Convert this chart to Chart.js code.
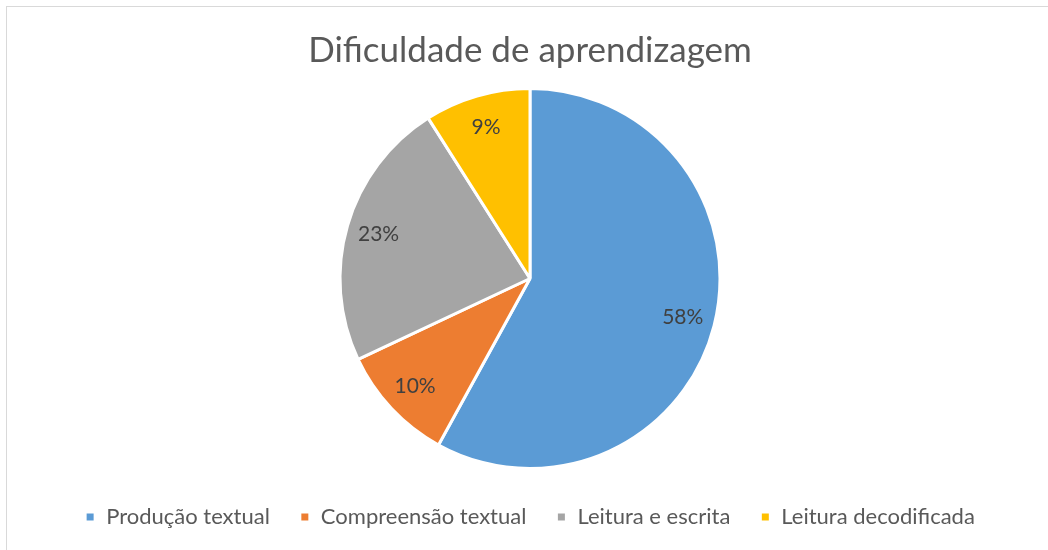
<!DOCTYPE html>
<html>
<head>
<meta charset="utf-8">
<script src="https://cdn.jsdelivr.net/npm/chart.js@4/dist/chart.umd.min.js"></script>
<style>
html,body{margin:0;padding:0;background:#fff;overflow:hidden;}
#frame{position:absolute;left:6px;top:6px;width:1100px;height:600px;border:1.5px solid #d9d9d9;box-sizing:border-box;}
#wrap{position:absolute;left:0;top:0;width:1048px;height:550px;}
</style>
</head>
<body>
<div id="frame"></div>
<div id="wrap"><canvas id="c" width="1048" height="550"></canvas></div>
<script>
const titleText = "Dificuldade de aprendizagem";
const categories = ["Produção textual", "Compreensão textual", "Leitura e escrita", "Leitura decodificada"];
const values = [58, 10, 23, 9];
const colors = ["#5B9BD5", "#ED7D31", "#A5A5A5", "#FFC000"];

const FONT = "Lato, 'Open Sans', sans-serif";

const labelPlugin = {
  id: 'sliceLabels',
  afterDatasetsDraw(chart) {
    const ctx = chart.ctx;
    const meta = chart.getDatasetMeta(0);
    const total = values.reduce((a, b) => a + b, 0);
    ctx.save();
    ctx.font = "21px " + FONT;
    ctx.fillStyle = "#404040";
    ctx.textAlign = "center";
    ctx.textBaseline = "middle";
    meta.data.forEach((arc, i) => {
      const p = arc.getProps(['x','y','startAngle','endAngle','outerRadius'], true);
      const mid = (p.startAngle + p.endAngle) / 2;
      const r = p.outerRadius * 0.83;
      const x = p.x + Math.cos(mid) * r;
      const y = p.y + Math.sin(mid) * r;
      ctx.fillText(Math.round(values[i] / total * 100) + "%", x, y);
    });
    ctx.restore();
  }
};

new Chart(document.getElementById('c'), {
  type: 'pie',
  data: {
    labels: categories,
    datasets: [{
      data: values,
      backgroundColor: colors,
      borderColor: '#ffffff',
      borderWidth: 3
    }]
  },
  options: {
    responsive: false,
    animation: false,
    radius: 190,
    layout: { padding: { left: 12, right: 0, top: 0, bottom: 12 } },
    plugins: {
      title: {
        display: true,
        text: titleText,
        color: '#595959',
        font: { family: FONT, size: 35, weight: 'normal' },
        padding: { top: 30, bottom: 9 }
      },
      legend: {
        position: 'bottom',
        labels: {
          color: '#595959',
          font: { family: FONT, size: 22 },
          boxWidth: 10,
          boxHeight: 10,
          padding: 30
        }
      },
      tooltip: { enabled: false }
    }
  },
  plugins: [labelPlugin]
});
</script>
</body>
</html>
